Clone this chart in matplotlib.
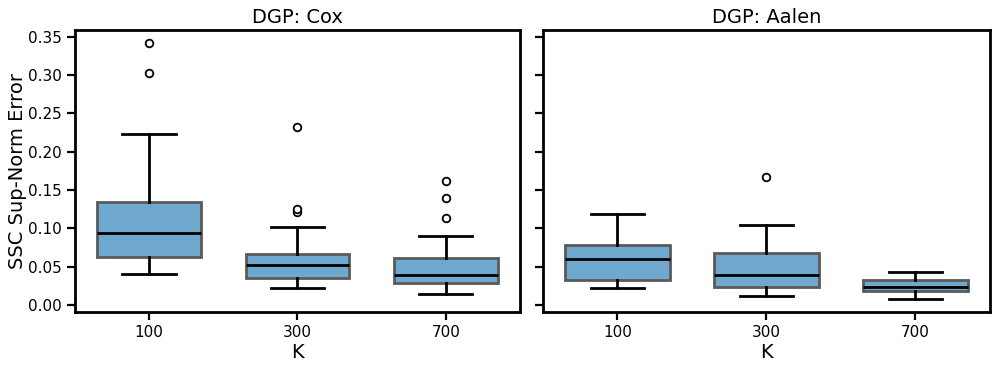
import matplotlib
matplotlib.use("Agg")
import matplotlib.pyplot as plt

ks = ["100", "300", "700"]
titles = ["DGP: Cox", "DGP: Aalen"]

# per DGP, per K: whislo, q1, med, q3, whishi
cox_box = [
    [0.040, 0.063, 0.094, 0.134, 0.223],
    [0.022, 0.035, 0.052, 0.067, 0.102],
    [0.015, 0.029, 0.039, 0.062, 0.090],
]
cox_fliers = [[0.303, 0.342], [0.121, 0.125, 0.233], [0.113, 0.140, 0.162]]

aalen_box = [
    [0.022, 0.032, 0.060, 0.078, 0.119],
    [0.012, 0.024, 0.039, 0.068, 0.104],
    [0.008, 0.018, 0.023, 0.032, 0.043],
]
aalen_fliers = [[], [0.167], []]


def make_stats(box, fliers):
    out = []
    for b, f in zip(box, fliers):
        out.append(dict(whislo=b[0], q1=b[1], med=b[2], q3=b[3], whishi=b[4], fliers=f))
    return out


fig = plt.figure(figsize=(9.96, 3.70), dpi=100)
ax1 = fig.add_axes([0.0753, 0.157, 0.4467, 0.762])
ax2 = fig.add_axes([0.545, 0.157, 0.449, 0.762], sharey=ax1)

data = [(cox_box, cox_fliers), (aalen_box, aalen_fliers)]
for ax, (box, fl), title in zip([ax1, ax2], data, titles):
    ax.bxp(make_stats(box, fl), positions=[0, 1, 2], widths=0.7, patch_artist=True,
           boxprops=dict(facecolor="#6fa8cf", edgecolor="#5a5a5a", linewidth=2),
           medianprops=dict(color="black", linewidth=2),
           whiskerprops=dict(color="black", linewidth=2),
           capprops=dict(color="black", linewidth=2),
           capwidths=0.36,
           flierprops=dict(marker="o", markerfacecolor="white", markeredgecolor="black",
                           markersize=5.5, markeredgewidth=1.3))
    ax.set_xlim(-0.5, 2.5)
    ax.set_xticks([0, 1, 2])
    ax.set_xticklabels(ks)
    ax.set_xlabel("K", fontsize=14, labelpad=2)
    ax.set_title(title, fontsize=14, pad=5)
    for s in ax.spines.values():
        s.set_linewidth(2)
    ax.tick_params(labelsize=11, length=6, width=1.6)

ax1.set_ylim(-0.009, 0.359)
ax1.set_yticks([0.00, 0.05, 0.10, 0.15, 0.20, 0.25, 0.30, 0.35])
ax1.set_ylabel("SSC Sup-Norm Error", fontsize=14, labelpad=1)
ax2.tick_params(labelleft=False)

fig.savefig("out.png", dpi=100)
